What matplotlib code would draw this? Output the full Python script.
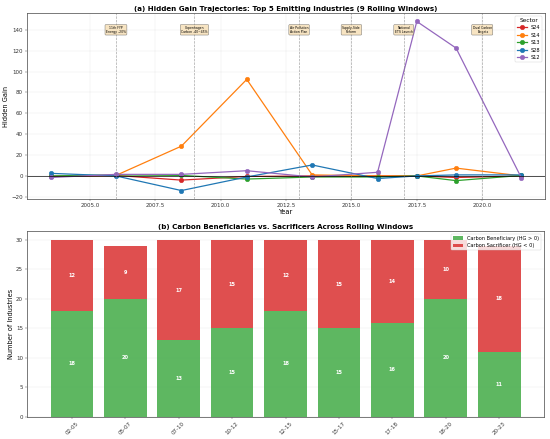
import matplotlib
matplotlib.use("Agg")
import matplotlib.pyplot as plt
import numpy as np

# ---- data ----
window_mid = [2003.5, 2006.0, 2008.5, 2011.0, 2013.5, 2016.0, 2017.5, 2019.0, 2021.5]
sectors = ["S24", "S14", "S13", "S28", "S12"]
s24 = [-0.5, 0.5, -4.0, -0.5, 0.0, 0.0, 0.0, -1.5, 0.0]
s14 = [-0.5, 0.5, 28.5, 92.5, 1.0, 0.0, 0.0, 7.5, 0.0]
s13 = [0.0, 1.0, 0.5, -3.0, -1.0, -1.0, 0.0, -4.5, 0.5]
s28 = [2.5, 0.0, -14.0, -1.0, 10.5, -2.5, 0.0, 1.0, 1.0]
s12 = [-1.5, 1.5, 1.5, 5.0, -1.0, 3.5, 148.0, 122.5, -2.0]
series = [s24, s14, s13, s28, s12]
colors = ["#d62728", "#ff7f0e", "#2ca02c", "#1f77b4", "#9467bd"]

event_years = [2006, 2009, 2013, 2015, 2017, 2020]
event_labels = ["11th FYP\nEnergy -20%", "Copenhagen\nCarbon -40~45%",
                "Air Pollution\nAction Plan", "Supply-Side\nReform",
                "National\nETS Launch", "Dual Carbon\nTargets"]

windows = ["02-05", "05-07", "07-10", "10-12", "12-15", "15-17", "17-18", "18-20", "20-23"]
beneficiaries = [18, 20, 13, 15, 18, 15, 16, 20, 11]
sacrificers = [12, 9, 17, 15, 12, 15, 14, 10, 18]

# ---- figure ----
DPI = 34.375
fig = plt.figure(figsize=(550 / DPI, 439 / DPI), dpi=DPI)
ax1 = fig.add_axes([27 / 550, 1 - 199 / 439, (545 - 27) / 550, (199 - 13) / 439])
ax2 = fig.add_axes([27 / 550, 1 - 417 / 439, (544 - 27) / 550, (417 - 231) / 439])

for ax in (ax1, ax2):
    for sp in ax.spines.values():
        sp.set_color("#555555")
        sp.set_linewidth(1.6)
    ax.tick_params(labelsize=11.5, colors="#333333", length=5)

# panel (a)
for name, vals, c in zip(sectors, series, colors):
    ax1.plot(window_mid, vals, marker="o", color=c, lw=2.6, markersize=9.5, label=name)
ax1.axhline(0, color="black", lw=1.4)
for yr, lab in zip(event_years, event_labels):
    ax1.axvline(yr, color="gray", ls="--", lw=1.4, alpha=0.7)
    ax1.text(yr, 140, lab, ha="center", va="center", fontsize=6.5,
             bbox=dict(boxstyle="round,pad=0.3", facecolor="wheat", alpha=0.8, edgecolor="#555555"))
ax1.grid(True, alpha=0.3)
ax1.set_xlabel("Year", fontsize=14, labelpad=1)
ax1.set_ylabel("Hidden Gain", fontsize=14)
ax1.set_title("(a) Hidden Gain Trajectories: Top 5 Emitting Industries (9 Rolling Windows)",
              fontsize=14.8, fontweight="bold", pad=4)
ax1.legend(title="Sector", loc="upper right", fontsize=10.5, title_fontsize=12)

# panel (b)
x = np.arange(len(windows))
ax2.bar(x, beneficiaries, width=0.8, color="#4CAF50", alpha=0.9, label="Carbon Beneficiary (HG > 0)")
ax2.bar(x, sacrificers, width=0.8, bottom=beneficiaries, color="#DC3C3C", alpha=0.9,
        label="Carbon Sacrificer (HG < 0)")
for i in range(len(windows)):
    ax2.text(x[i], beneficiaries[i] / 2, str(beneficiaries[i]), ha="center", va="center",
             color="white", fontweight="bold", fontsize=10.5)
    ax2.text(x[i], beneficiaries[i] + sacrificers[i] / 2, str(sacrificers[i]), ha="center",
             va="center", color="white", fontweight="bold", fontsize=10.5)
ax2.set_xticks(x)
ax2.set_xticklabels(windows, rotation=45)
ax2.set_ylabel("Number of Industries", fontsize=14)
ax2.set_title("(b) Carbon Beneficiaries vs. Sacrificers Across Rolling Windows",
              fontsize=14.8, fontweight="bold", pad=4)
ax2.legend(loc="upper right", fontsize=10.5)
ax2.grid(True, axis="y", alpha=0.3)
ax2.set_axisbelow(True)

fig.savefig("out.png", dpi=DPI)
